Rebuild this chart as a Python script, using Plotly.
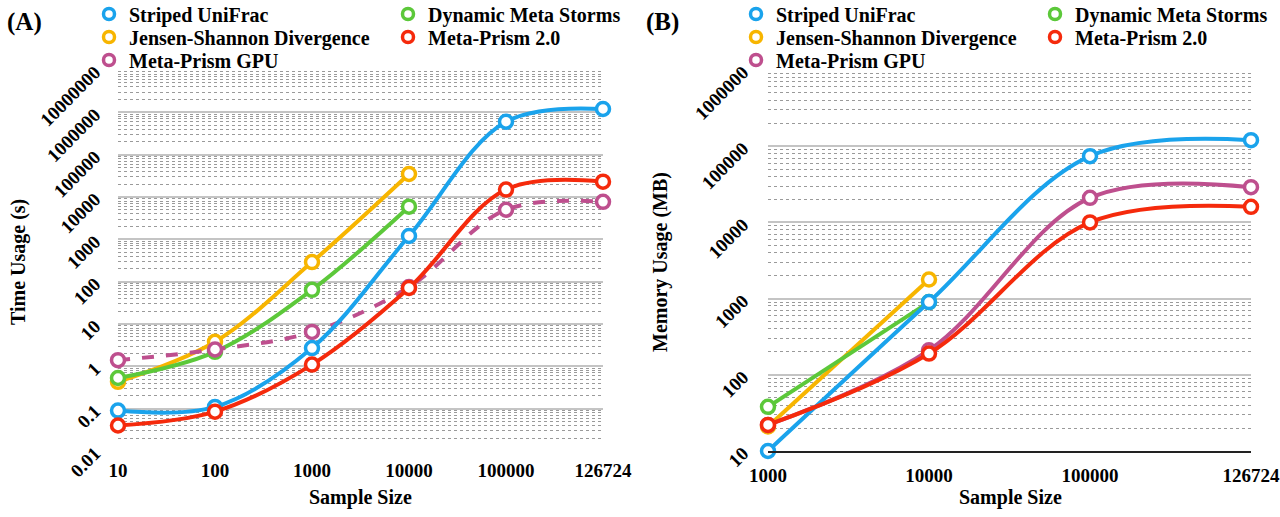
import plotly.graph_objects as go

# ---------------- data ----------------
categories_a = ["10", "100", "1000", "10000", "100000", "126724"]
time_striped = [0.09, 0.11, 2.7, 1200, 600000, 1200000]
time_jsd = [0.43, 3.8, 290, 35000]
time_dms = [0.53, 2.2, 64, 5900]
time_mp2 = [0.04, 0.085, 1.1, 71, 15000, 23000]
time_gpu = [1.4, 2.5, 6.5, 75, 5000, 7700]

categories_b = ["1000", "10000", "100000", "126724"]
mem_striped = [10, 900, 74000, 120000]
mem_jsd = [21, 1780]
mem_dms = [38, 900]
mem_mp2 = [22, 190, 10000, 16000]
mem_gpu = [22, 210, 21000, 29000]

ticks_a = [0.01, 0.1, 1, 10, 100, 1000, 10000, 100000, 1000000, 10000000]
ticks_a_text = ["0.01", "0.1", "1", "10", "100", "1000", "10000", "100000", "1000000", "10000000"]
ticks_b = [10, 100, 1000, 10000, 100000, 1000000]
ticks_b_text = ["10", "100", "1000", "10000", "100000", "1000000"]

colors = {
    "Striped UniFrac": "#1AA3EC",
    "Jensen-Shannon Divergence": "#F7B500",
    "Dynamic Meta Storms": "#5CC83A",
    "Meta-Prism 2.0": "#F52A0C",
    "Meta-Prism GPU": "#BE4F8E",
}

FONT = "Liberation Serif"
W, H = 1280, 517

fig = go.Figure()


def add_series(x, y, name, xaxis, yaxis, dash="solid"):
    fig.add_trace(go.Scatter(
        x=x, y=y, mode="lines+markers", name=name, showlegend=False,
        xaxis=xaxis, yaxis=yaxis, cliponaxis=False,
        line=dict(color=colors[name], width=4, shape="spline", dash=dash),
        marker=dict(symbol="circle", size=13, color="white",
                    line=dict(color=colors[name], width=3.5)),
    ))


# Panel A
add_series(categories_a[:len(time_jsd)], time_jsd, "Jensen-Shannon Divergence", "x", "y")
add_series(categories_a[:len(time_dms)], time_dms, "Dynamic Meta Storms", "x", "y")
add_series(categories_a, time_gpu, "Meta-Prism GPU", "x", "y", dash="dash")
add_series(categories_a, time_striped, "Striped UniFrac", "x", "y")
add_series(categories_a, time_mp2, "Meta-Prism 2.0", "x", "y")

# Panel B
add_series(categories_b[:len(mem_jsd)], mem_jsd, "Jensen-Shannon Divergence", "x2", "y2")
add_series(categories_b[:len(mem_dms)], mem_dms, "Dynamic Meta Storms", "x2", "y2")
add_series(categories_b, mem_gpu, "Meta-Prism GPU", "x2", "y2")
add_series(categories_b, mem_striped, "Striped UniFrac", "x2", "y2")
add_series(categories_b, mem_mp2, "Meta-Prism 2.0", "x2", "y2")

# Legend entries (marker-only), one legend per entry, laid out in a 2-column grid
legend_items = [
    ("Striped UniFrac", 0, 0),
    ("Dynamic Meta Storms", 0, 1),
    ("Jensen-Shannon Divergence", 1, 0),
    ("Meta-Prism 2.0", 1, 1),
    ("Meta-Prism GPU", 2, 0),
]
legend_font = dict(family=FONT, size=20, color="black", weight="bold")
row_y = [14, 37, 60]
col_icon_x = [[107, 406], [754, 1053]]
legends = {}
k = 0
for p, (xa, ya) in enumerate([("x", "y"), ("x2", "y2")]):
    for nm, r, c in legend_items:
        k += 1
        lname = "legend" if k == 1 else f"legend{k}"
        fig.add_trace(go.Scatter(
            x=[None], y=[None], mode="markers", name=nm, legend=lname,
            xaxis=xa, yaxis=ya, showlegend=True,
            marker=dict(symbol="circle", size=11, color="white",
                        line=dict(color=colors[nm], width=3.5)),
        ))
        legends[lname] = dict(
            orientation="h", x=(col_icon_x[p][c] - 18) / W, y=1 - row_y[r] / H,
            xanchor="left", yanchor="middle", font=legend_font,
            bgcolor="rgba(0,0,0,0)", borderwidth=0, itemclick=False,
            itemdoubleclick=False, tracegroupgap=0,
        )

xdom_a = [118 / W, 603 / W]
xdom_b = [768 / W, 1251 / W]
ydom = [1 - 451 / H, 1 - 70 / H]

tickfont = dict(family=FONT, size=19, color="black", weight="bold")
major_grid = "#c4c4c4"
minor_grid = "#9a9a9a"


def yaxis_cfg(lo, hi, tv, tt, standoff):
    return dict(
        type="log", range=[lo, hi], domain=ydom, tickvals=tv, ticktext=tt,
        tickangle=-45, tickfont=tickfont, showgrid=True, gridcolor=major_grid,
        gridwidth=1.5, zeroline=False, showline=False, ticks="",
        ticklabelstandoff=standoff, automargin=False,
        minor=dict(dtick="D1", showgrid=True, gridcolor=minor_grid,
                   griddash="dot", gridwidth=1, ticks=""),
    )


layout = dict(
    width=W, height=H, margin=dict(l=0, r=0, t=0, b=0, autoexpand=False),
    paper_bgcolor="white", plot_bgcolor="white",
    xaxis=dict(domain=xdom_a, type="category", range=[0, 5], tickfont=tickfont,
               showgrid=False, zeroline=False, showline=False, ticks="",
               ticklabelstandoff=6, anchor="y", automargin=False),
    yaxis=yaxis_cfg(-2, 7, ticks_a, ticks_a_text, 22) | dict(anchor="x"),
    xaxis2=dict(domain=xdom_b, type="category", range=[0, 3], tickfont=tickfont,
                showgrid=False, zeroline=False, showline=True, linecolor="#222222",
                linewidth=1.5, ticks="", ticklabelstandoff=6, anchor="y2",
                automargin=False),
    yaxis2=yaxis_cfg(1, 6, ticks_b, ticks_b_text, 24) | dict(anchor="x2"),
    showlegend=True,
)
layout.update(legends)
fig.update_layout(**layout)

title_font = dict(family=FONT, size=20, color="black", weight="bold")
ann = [
    dict(text="(A)", x=24 / W, y=1 - 22 / H, font=dict(family=FONT, size=25, color="black", weight="bold")),
    dict(text="(B)", x=662 / W, y=1 - 22 / H, font=dict(family=FONT, size=25, color="black", weight="bold")),
    dict(text="Time Usage (s)", x=18 / W, y=1 - 262 / H, textangle=-90, font=title_font),
    dict(text="Memory Usage (MB)", x=660 / W, y=1 - 262 / H, textangle=-90, font=title_font),
    dict(text="Sample Size", x=360 / W, y=1 - 497 / H, font=title_font),
    dict(text="Sample Size", x=1010 / W, y=1 - 497 / H, font=title_font),
]
for a in ann:
    fig.add_annotation(xref="paper", yref="paper", showarrow=False,
                       xanchor="center", yanchor="middle", **a)

fig.write_html("out.html")
